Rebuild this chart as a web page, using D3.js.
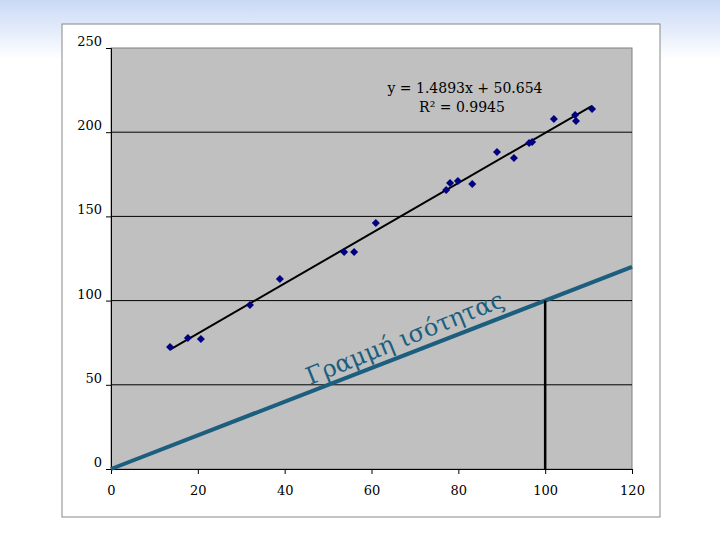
<!DOCTYPE html>
<html><head><meta charset="utf-8">
<script src="https://cdn.jsdelivr.net/npm/d3@7.9.0/dist/d3.min.js"></script>
<style>body{margin:0;width:720px;height:540px;overflow:hidden;background:#fff}</style>
</head><body>
<svg id="chart" width="720" height="540"></svg>
<script>
// data
const xs = [13.6, 17.7, 20.7, 32.0, 38.9, 53.7, 56.0, 61.0, 77.2, 78.1, 79.9, 83.2, 88.9, 92.8, 96.3, 97.0, 102.0, 106.9, 107.1, 110.8];
const ys = [72.4, 77.8, 77.2, 97.4, 112.8, 128.9, 128.9, 146.1, 165.7, 169.8, 171.0, 169.2, 188.2, 184.7, 193.6, 194.2, 207.8, 210.2, 206.7, 213.8];
const xTicks = [0, 20, 40, 60, 80, 100, 120];
const yTicks = [0, 50, 100, 150, 200, 250];
const slope = 1.4893, intercept = 50.654;

const svg = d3.select('#chart');
const font = 'DejaVu Serif';

const defs = svg.append('defs');
const grad = defs.append('linearGradient').attr('id', 'bg').attr('x1', 0).attr('y1', 0).attr('x2', 0).attr('y2', 1);
grad.append('stop').attr('offset', 0).attr('stop-color', '#c9d9f5');
grad.append('stop').attr('offset', 1).attr('stop-color', '#ffffff');
svg.append('rect').attr('width', 720).attr('height', 60).attr('fill', 'url(#bg)');

svg.append('rect').attr('x', 62).attr('y', 24).attr('width', 598).attr('height', 493)
  .attr('fill', '#fff').attr('stroke', '#888');

const x = d3.scaleLinear().domain([0, 120]).range([111, 632]);
const y = d3.scaleLinear().domain([0, 250]).range([469, 48]);

svg.append('rect').attr('x', x(0)).attr('y', y(250)).attr('width', x(120) - x(0)).attr('height', y(0) - y(250))
  .attr('fill', '#c0c0c0').attr('stroke', '#808080');

svg.append('g').selectAll('line').data(yTicks.filter(d => d > 0 && d < 250)).join('line')
  .attr('x1', x(0)).attr('x2', x(120)).attr('y1', d => y(d)).attr('y2', d => y(d)).attr('stroke', '#000');

svg.append('g').attr('transform', `translate(0,${y(0)})`)
  .call(d3.axisBottom(x).tickValues(xTicks).tickSize(5).tickPadding(12))
  .call(g => g.selectAll('text').style('font-family', font).style('font-size', '13px'));
svg.append('g').attr('transform', `translate(${x(0)},0)`)
  .call(d3.axisLeft(y).tickValues(yTicks).tickSize(5).tickPadding(4))
  .call(g => g.selectAll('text').style('font-family', font).style('font-size', '13px').attr('dy', '-0.2em'));

// line of equality
svg.append('line').attr('x1', x(0)).attr('y1', y(0)).attr('x2', x(120)).attr('y2', y(120))
  .attr('stroke', '#1b5e7e').attr('stroke-width', 4);
svg.append('line').attr('x1', x(100)).attr('y1', y(0)).attr('x2', x(100)).attr('y2', y(100))
  .attr('stroke', '#000').attr('stroke-width', 2.5);

// trend line
const x0 = d3.min(xs), x1 = d3.max(xs);
svg.append('line').attr('x1', x(x0)).attr('y1', y(slope * x0 + intercept))
  .attr('x2', x(x1)).attr('y2', y(slope * x1 + intercept)).attr('stroke', '#000').attr('stroke-width', 2);

svg.append('g').selectAll('path').data(xs).join('path')
  .attr('transform', (d, i) => `translate(${x(d)},${y(ys[i])})`)
  .attr('d', 'M0,-4L4,0L0,4L-4,0Z').attr('fill', '#000080');

svg.append('text').attr('x', 465).attr('y', 93).attr('text-anchor', 'middle')
  .style('font-family', font).style('font-size', '14px').text('y = 1.4893x + 50.654');
svg.append('text').attr('x', 462).attr('y', 112).attr('text-anchor', 'middle')
  .style('font-family', font).style('font-size', '14px').text('R² = 0.9945');

svg.append('text').attr('transform', 'translate(310,385) rotate(-22)')
  .style('font-family', font).style('font-size', '24px').attr('fill', '#1b5e7e')
  .text('Γραμμή ισότητας');
</script>
</body></html>
